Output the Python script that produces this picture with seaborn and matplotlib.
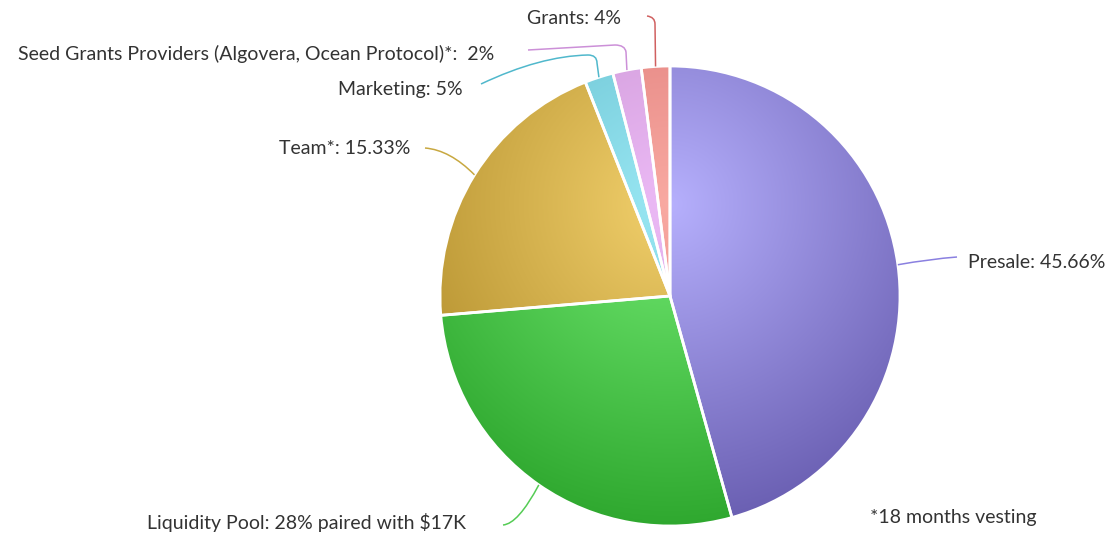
import numpy as np
import matplotlib
matplotlib.use("Agg")
import matplotlib.pyplot as plt
import seaborn as sns
from matplotlib.path import Path
from matplotlib.patches import PathPatch
from matplotlib.colors import to_rgb

# ---------------- data ----------------
categories = ["Presale", "Liquidity Pool", "Team", "Marketing",
              "Seed Grants Providers", "Grants"]
values = [45.66, 28.0, 20.34, 2.0, 2.0, 2.0]
label_texts = ["Presale: 45.66%",
               "Liquidity Pool: 28% paired with $17K",
               "Team*: 15.33%",
               "Marketing: 5%",
               "Seed Grants Providers (Algovera, Ocean Protocol)*:  2%",
               "Grants: 4%"]
light_colors = ["#b6b0fd", "#72ea72", "#f2d06c", "#9ae8f4", "#ecbaf6", "#f9aaa2"]
dark_colors = ["#6a5fb2", "#2fa82f", "#b08c2a", "#5cb6c6", "#c48ecc", "#d87070"]
line_colors = ["#8a80e0", "#55cc55", "#c8a840", "#50b8cc", "#cc90d8", "#d06060"]
footnote = "*18 months vesting"

# ---------------- style ----------------
sns.set_theme(style="white")
plt.rcParams["font.family"] = ["Lato", "DejaVu Sans"]

W, H = 1113, 535
fig = plt.figure(figsize=(W / 100, H / 100), dpi=100)
ax = fig.add_axes([0, 0, 1, 1])

cx, cy, R = 670, H - 296, 230
wedges, _ = ax.pie(values, center=(cx, cy), radius=R, startangle=90,
                   counterclock=False,
                   wedgeprops=dict(facecolor="none", edgecolor="white",
                                   linewidth=2, zorder=3))

# radial gradient (Highcharts-like: cx .5, cy .3, r .7 of bbox)
gx, gy, gr = cx, (H - 66) - 0.3 * 2 * R, 0.7 * 2 * R
x0, x1, y0, y1 = cx - R - 2, cx + R + 2, cy - R - 2, cy + R + 2
xs = np.linspace(x0, x1, int(x1 - x0))
ys = np.linspace(y0, y1, int(y1 - y0))
XX, YY = np.meshgrid(xs, ys)
t = np.clip(np.hypot(XX - gx, YY - gy) / gr, 0, 1)[..., None]
for w, lc, dc in zip(wedges, light_colors, dark_colors):
    a = np.array(to_rgb(lc)); b = np.array(to_rgb(dc))
    img = a * (1 - t) + b * t
    im = ax.imshow(img, extent=(x0, x1, y0, y1), origin="lower",
                   interpolation="bilinear", zorder=2)
    im.set_clip_path(w)


def edge_point(w):
    mid = np.deg2rad((w.theta1 + w.theta2) / 2)
    return cx + R * np.cos(mid), cy + R * np.sin(mid)


def fy(y):
    return H - y


def draw_path(verts, codes, color):
    p = Path(verts, codes)
    ax.add_patch(PathPatch(p, fill=False, edgecolor=color, lw=1.1, zorder=4))


M, L, C3 = Path.MOVETO, Path.LINETO, Path.CURVE3
txt_kw = dict(fontsize=14, color="#333333", va="center", zorder=5)

# Presale
sx, sy = edge_point(wedges[0])
draw_path([(sx, sy), (930, fy(259)), (957, fy(257))], [M, C3, C3], line_colors[0])
ax.text(968, fy(263), label_texts[0], ha="left", **txt_kw)

# Liquidity
sx, sy = edge_point(wedges[1])
draw_path([(sx, sy), (518, fy(524)), (503, fy(525))], [M, C3, C3], line_colors[1])
ax.text(466, fy(522), label_texts[1], ha="right", **txt_kw)

# Team
sx, sy = edge_point(wedges[2])
draw_path([(sx, sy), (450, fy(150)), (425, fy(148))], [M, C3, C3], line_colors[2])
ax.text(410, fy(148), label_texts[2], ha="right", **txt_kw)

# Marketing
sx, sy = edge_point(wedges[3])
draw_path([(sx, sy), (597, fy(63)), (597, fy(55)), (588, fy(55)),
           (540, fy(56)), (481, fy(84))],
          [M, L, C3, C3, C3, C3], line_colors[3])
ax.text(463, fy(89), label_texts[3], ha="right", **txt_kw)

# Seed grants
sx, sy = edge_point(wedges[4])
draw_path([(sx, sy), (626, fy(52)), (625, fy(45)), (615, fy(45)), (528, fy(50))],
          [M, L, C3, C3, L], line_colors[4])
ax.text(494, fy(54), label_texts[4], ha="right", **txt_kw)

# Grants
sx, sy = edge_point(wedges[5])
draw_path([(sx, sy), (655, fy(24)), (655, fy(17)), (647, fy(16))],
          [M, L, C3, C3], line_colors[5])
ax.text(621, fy(18), label_texts[5], ha="right", **txt_kw)

ax.text(870, fy(517), footnote, ha="left", **txt_kw)

ax.set_xlim(0, W)
ax.set_ylim(0, H)
ax.set_aspect("equal")
ax.axis("off")
fig.savefig("out.png", dpi=100, facecolor="white")
